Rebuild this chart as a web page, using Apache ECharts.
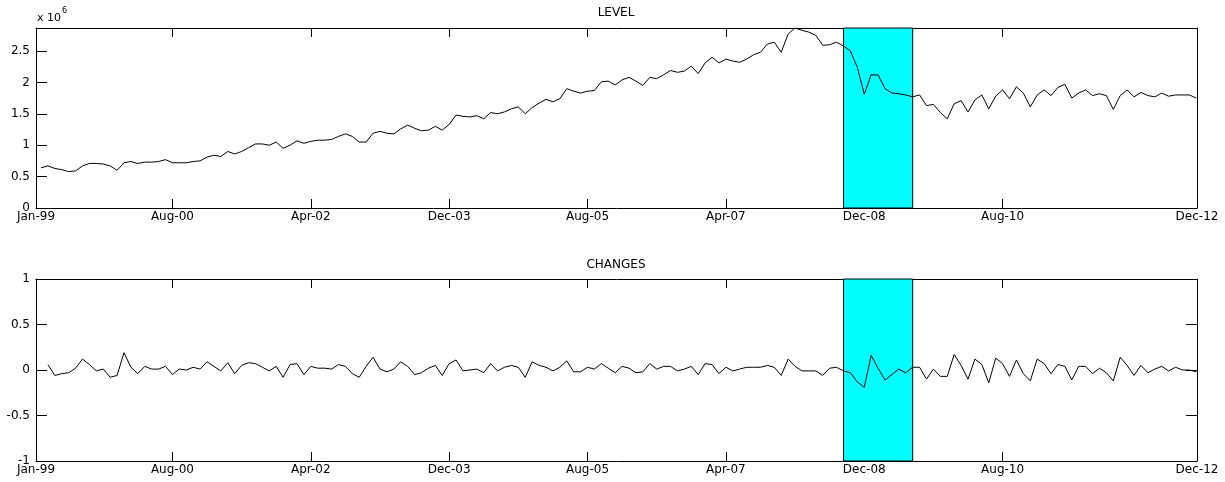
<!DOCTYPE html>
<html>
<head>
<meta charset="utf-8">
<title>LEVEL / CHANGES</title>
<script src="https://cdn.jsdelivr.net/npm/echarts@6.0.0/dist/echarts.min.js"></script>
<style>
  html, body { margin: 0; padding: 0; background: #fff; }
  #main { width: 1225px; height: 482px; }
</style>
</head>
<body>
<div id="main"></div>
<script>
// monthly data Jan-99 .. Dec-12, index 0..167
// level is in millions (axis shows x 10^6)
var level = [
  0.64, 0.67, 0.63, 0.61, 0.58, 0.59, 0.67, 0.71, 0.71, 0.70, 0.67, 0.60,
  0.72, 0.74, 0.71, 0.73, 0.73, 0.74, 0.77, 0.72, 0.72, 0.72, 0.74, 0.75,
  0.81, 0.84, 0.82, 0.90, 0.86, 0.90, 0.96, 1.02, 1.02, 1.00, 1.05, 0.95,
  1.00, 1.07, 1.03, 1.06, 1.08, 1.08, 1.09, 1.14, 1.18, 1.14, 1.05, 1.05,
  1.19, 1.22, 1.19, 1.18, 1.26, 1.32, 1.27, 1.23, 1.24, 1.30, 1.24, 1.33,
  1.48, 1.46, 1.45, 1.47, 1.42, 1.52, 1.50, 1.53, 1.58, 1.61, 1.50, 1.60,
  1.67, 1.73, 1.69, 1.74, 1.90, 1.86, 1.83, 1.86, 1.87, 2.01, 2.02, 1.96,
  2.04, 2.08, 2.02, 1.95, 2.08, 2.06, 2.12, 2.19, 2.16, 2.18, 2.26, 2.14,
  2.31, 2.40, 2.31, 2.37, 2.34, 2.32, 2.37, 2.44, 2.48, 2.61, 2.64, 2.48,
  2.77, 2.866, 2.83, 2.80, 2.75, 2.59, 2.60, 2.64, 2.58, 2.50, 2.24, 1.81,
  2.12, 2.12, 1.90, 1.83, 1.82, 1.80, 1.77, 1.80, 1.63, 1.65, 1.52, 1.42,
  1.66, 1.71, 1.53, 1.72, 1.80, 1.58, 1.78, 1.88, 1.74, 1.93, 1.83, 1.61,
  1.80, 1.88, 1.79, 1.92, 1.97, 1.75, 1.83, 1.88, 1.79, 1.82, 1.79, 1.57,
  1.79, 1.88, 1.77, 1.84, 1.79, 1.77, 1.83, 1.78, 1.80, 1.80, 1.80, 1.75
];

// first month has no change
var changes = [
  null, 0.06, -0.06, -0.04, -0.03, 0.02, 0.12, 0.06, -0.01, 0.01, -0.08, -0.06,
  0.19, 0.03, -0.04, 0.04, 0.01, 0.01, 0.04, -0.05, 0.01, 0.00, 0.03, 0.01,
  0.09, 0.04, -0.01, 0.08, -0.04, 0.05, 0.08, 0.07, 0.03, -0.01, 0.04, -0.08,
  0.06, 0.07, -0.05, 0.04, 0.02, 0.02, 0.01, 0.06, 0.04, -0.04, -0.08, 0.04,
  0.14, 0.01, -0.02, 0.01, 0.09, 0.04, -0.05, -0.03, 0.02, 0.05, -0.06, 0.07,
  0.11, -0.01, 0.00, 0.01, -0.03, 0.07, -0.01, 0.03, 0.05, 0.03, -0.08, 0.09,
  0.05, 0.03, -0.01, 0.03, 0.10, -0.02, -0.02, 0.03, 0.01, 0.07, 0.02, -0.03,
  0.04, 0.02, -0.03, -0.02, 0.07, 0.01, 0.04, 0.04, -0.01, 0.01, 0.04, -0.05,
  0.07, 0.06, -0.04, 0.03, -0.01, 0.01, 0.03, 0.03, 0.03, 0.05, 0.03, -0.06,
  0.12, 0.04, -0.01, -0.01, -0.01, -0.06, 0.02, 0.03, -0.01, -0.03, -0.13, -0.19,
  0.16, 0.02, -0.11, -0.05, 0.01, -0.03, 0.03, 0.03, -0.10, 0.01, -0.07, -0.07,
  0.17, 0.05, -0.10, 0.12, 0.06, -0.14, 0.13, 0.07, -0.07, 0.11, -0.04, -0.12,
  0.12, 0.07, -0.04, 0.06, 0.04, -0.11, 0.04, 0.04, -0.04, 0.02, -0.03, -0.12,
  0.14, 0.05, -0.06, 0.05, -0.03, 0.01, 0.04, -0.01, 0.03, 0.00, 0.00, -0.02
];

var tickMonths = [0, 19, 39, 59, 79, 99, 119, 139, 167];
var tickLabels = ['Jan-99', 'Aug-00', 'Apr-02', 'Dec-03', 'Aug-05', 'Apr-07', 'Dec-08', 'Aug-10', 'Dec-12'];
var recession = [116, 126];
var levelTicks = [0, 0.5, 1, 1.5, 2, 2.5];
var changeTicks = [-1, -0.5, 0, 0.5, 1];

var xMin = -0.72, xMax = 167.1;
// the first and last label sit on the ends of the axis
var labelPos = tickMonths.map(function (m, i) {
  if (i === 0) return xMin;
  if (i === tickMonths.length - 1) return xMax;
  return m;
});
var innerTicks = tickMonths.slice(1, -1);

function xLabel(v) {
  var best = 0;
  for (var i = 1; i < labelPos.length; i++) {
    if (Math.abs(labelPos[i] - v) < Math.abs(labelPos[best] - v)) best = i;
  }
  return tickLabels[best];
}

var txt = { fontFamily: 'DejaVu Sans', fontSize: 12, color: '#000' };

// box line on every side, like a matlab axes
function boxLine() {
  return { show: true, onZero: false, lineStyle: { color: '#000', width: 1 } };
}
function tick(len, vals) {
  return { show: true, inside: true, length: len, customValues: vals, lineStyle: { color: '#000', width: 1 } };
}

function toPairs(arr) {
  var out = [];
  arr.forEach(function (v, i) { if (v !== null) out.push([i, v]); });
  return out;
}

function xAxes(grid) {
  return [{
    type: 'value', gridIndex: grid, position: 'bottom', min: xMin, max: xMax,
    axisLine: boxLine(), splitLine: { show: false }, axisTick: tick(9, innerTicks),
    axisLabel: Object.assign({ margin: 3, customValues: labelPos, formatter: xLabel }, txt)
  }, {
    type: 'value', gridIndex: grid, position: 'top', min: xMin, max: xMax,
    axisLine: boxLine(), splitLine: { show: false }, axisTick: tick(9, innerTicks),
    axisLabel: { show: false }
  }];
}

function yAxes(grid, min, max, ticks) {
  return [{
    type: 'value', gridIndex: grid, position: 'left', min: min, max: max,
    axisLine: boxLine(), splitLine: { show: false }, axisTick: tick(11, ticks),
    axisLabel: Object.assign({ margin: 6, customValues: ticks }, txt)
  }, {
    type: 'value', gridIndex: grid, position: 'right', min: min, max: max,
    axisLine: boxLine(), splitLine: { show: false }, axisTick: tick(11, ticks),
    axisLabel: { show: false }
  }];
}

var shade = {
  silent: true,
  itemStyle: { color: '#00ffff', borderColor: '#000', borderWidth: 1 },
  data: [[{ xAxis: recession[0] }, { xAxis: recession[1] }]]
};

var chart = echarts.init(document.getElementById('main'));

var option = {
  animation: false,
  backgroundColor: '#fff',
  grid: [
    { left: 36, width: 1161, top: 28, height: 180 },
    { left: 36, width: 1161, top: 279, height: 182 }
  ],
  xAxis: xAxes(0).concat(xAxes(1)),
  yAxis: yAxes(0, 0, 'dataMax', levelTicks).concat(yAxes(1, -1, 1, changeTicks)),
  graphic: [
    { type: 'text', x: 616, y: 13, style: { text: 'LEVEL', align: 'center', verticalAlign: 'middle', fontFamily: 'DejaVu Sans', fontSize: 12, fill: '#000' } },
    { type: 'text', x: 616, y: 265, style: { text: 'CHANGES', align: 'center', verticalAlign: 'middle', fontFamily: 'DejaVu Sans', fontSize: 12, fill: '#000' } },
    { type: 'text', x: 37, y: 18, style: { text: 'x 10', align: 'left', verticalAlign: 'middle', fontFamily: 'DejaVu Sans', fontSize: 11, fill: '#000' } },
    { type: 'text', x: 62, y: 11, style: { text: '6', align: 'left', verticalAlign: 'middle', fontFamily: 'DejaVu Sans', fontSize: 8, fill: '#000' } }
  ],
  series: [{
    name: 'LEVEL', type: 'line', xAxisIndex: 0, yAxisIndex: 0,
    data: toPairs(level), symbol: 'none',
    lineStyle: { color: '#000', width: 1 },
    markArea: shade
  }, {
    name: 'CHANGES', type: 'line', xAxisIndex: 2, yAxisIndex: 2,
    data: toPairs(changes), symbol: 'none',
    lineStyle: { color: '#000', width: 1 },
    markArea: shade
  }]
};

chart.setOption(option);
</script>
</body>
</html>
